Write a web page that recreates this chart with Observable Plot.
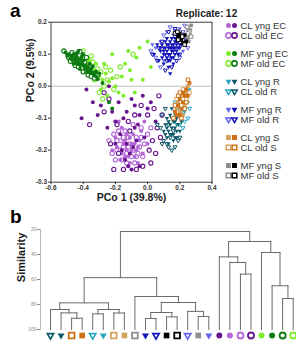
<!DOCTYPE html>
<html>
<head>
<meta charset="utf-8">
<script src="https://cdn.jsdelivr.net/npm/d3@7"></script>
<script src="https://cdn.jsdelivr.net/npm/@observablehq/plot@0.6"></script>
<style>
  body { margin: 0; background: #fff; font-family: "Liberation Sans", Arial, sans-serif; }
  #fig { position: relative; width: 296px; height: 344px; overflow: hidden; background: #fff; }
  #fig > * { position: absolute; }
  .panel { font-weight: bold; font-size: 19px; line-height: 1; color: #000; }
</style>
</head>
<body>
<div id="fig"></div>
<script>
// ---- Panel a: PCo scores, one array of [PCo1, PCo2] per group and replicate ----
const clYngEc1 = [[-0.19,-0.19],[-0.16,-0.21],[-0.13,-0.2],[-0.1,-0.18],[-0.08,-0.22],[-0.13,-0.15],[-0.05,-0.17],[-0.17,-0.23],[-0.11,-0.24],[-0.07,-0.2],[-0.03,-0.21],[-0.14,-0.17],[-0.2,-0.16],[-0.09,-0.15],[-0.04,-0.14],[-0.16,-0.13],[-0.06,-0.24],[-0.12,-0.22],[0.0,-0.18],[-0.22,-0.2],[-0.18,-0.11],[-0.02,-0.11],[-0.15,-0.18],[-0.11,-0.16],[-0.08,-0.18],[-0.14,-0.22],[-0.06,-0.19],[-0.1,-0.2]];
const clYngEc2 = [[-0.41,-0.1],[-0.38,-0.01],[-0.34,-0.05],[-0.31,-0.09],[-0.28,-0.04],[-0.25,-0.13],[-0.22,-0.08],[-0.2,-0.11],[-0.18,-0.05],[-0.15,-0.1],[-0.13,-0.08],[-0.1,-0.04],[-0.08,-0.06],[-0.05,-0.09],[-0.03,-0.03],[0.02,-0.05],[-0.14,-0.23],[-0.11,-0.21],[-0.09,-0.19],[-0.07,-0.17],[-0.12,-0.25],[-0.16,-0.2],[-0.05,-0.25],[-0.1,-0.26],[-0.2,-0.18],[-0.06,-0.12],[0.05,-0.11],[-0.24,0.0],[-0.29,-0.06],[-0.02,-0.16],[-0.17,-0.15],[-0.08,-0.13],[-0.13,-0.18],[0.0,-0.07]];
const clOldEc1 = [[-0.21,-0.15],[-0.19,-0.2],[-0.17,-0.17],[-0.15,-0.19],[-0.13,-0.21],[-0.11,-0.18],[-0.09,-0.2],[-0.07,-0.16],[-0.05,-0.19],[-0.03,-0.22],[-0.16,-0.23],[-0.12,-0.16],[-0.08,-0.24],[-0.18,-0.14],[-0.22,-0.21],[-0.14,-0.14],[-0.04,-0.13],[0.0,-0.15],[-0.1,-0.22],[-0.06,-0.21],[-0.02,-0.18],[-0.2,-0.23],[-0.24,-0.17],[-0.13,-0.24],[-0.09,-0.12],[0.02,-0.13],[-0.17,-0.2],[-0.12,-0.19],[-0.04,-0.16],[-0.15,-0.16],[-0.07,-0.22],[-0.19,-0.17]];
const clOldEc2 = [[-0.36,-0.12],[-0.27,-0.08],[-0.24,-0.04],[-0.19,-0.12],[-0.12,-0.11],[-0.08,-0.09],[-0.04,-0.06],[0.0,-0.09],[0.04,-0.07],[0.07,-0.03],[0.06,-0.13],[0.03,-0.17],[0.01,-0.2],[-0.03,-0.25],[-0.07,-0.26],[0.02,-0.24],[-0.15,-0.26],[-0.18,-0.21],[-0.23,-0.18],[0.09,-0.09],[0.05,-0.21],[-0.11,-0.14],[-0.27,-0.02],[0.08,-0.16],[-0.21,-0.26]];
const mfYngEc1 = [[-0.45,0.1],[-0.42,0.085],[-0.38,0.07],[-0.35,0.06],[-0.33,0.05],[-0.3,0.03],[-0.28,0.02],[-0.26,0.04],[-0.24,0.015],[-0.22,0.025],[-0.2,0.0],[-0.18,-0.02],[-0.25,-0.03],[-0.29,-0.01],[-0.16,0.03],[-0.14,0.07],[-0.1,0.02],[-0.07,0.09],[-0.05,0.12],[-0.12,0.11],[-0.03,0.02],[-0.27,0.07],[-0.22,0.1],[-0.11,0.05],[-0.08,-0.02],[0.02,0.06],[0.0,0.14],[-0.32,0.07],[-0.36,0.08],[-0.15,-0.03]];
const mfYngEc2 = [[-0.51,0.105],[-0.49,0.1],[-0.47,0.095],[-0.47,0.083],[-0.45,0.08],[-0.44,0.092],[-0.43,0.074],[-0.42,0.066],[-0.41,0.082],[-0.4,0.064],[-0.39,0.054],[-0.38,0.062],[-0.37,0.05],[-0.36,0.043],[-0.35,0.055],[-0.34,0.04],[-0.33,0.034],[-0.32,0.046],[-0.44,0.103],[-0.41,0.092],[-0.38,0.044],[-0.42,0.054],[-0.36,0.07],[-0.46,0.07],[-0.3,0.04],[-0.31,0.022],[-0.24,-0.05],[-0.22,-0.07],[-0.4,0.1],[-0.34,0.062],[-0.28,0.01],[-0.43,0.11],[-0.5,0.095],[-0.48,0.088],[-0.46,0.1],[-0.45,0.09],[-0.44,0.07],[-0.43,0.085],[-0.41,0.072],[-0.39,0.065],[-0.37,0.058],[-0.35,0.045],[-0.33,0.042],[-0.32,0.03],[-0.4,0.08],[-0.47,0.09]];
const mfOldEc1 = [[-0.4,0.11],[-0.37,0.085],[-0.34,0.075],[-0.31,0.055],[-0.29,0.045],[-0.27,0.0],[-0.25,0.02],[-0.23,0.05],[-0.21,-0.01],[-0.3,-0.02],[-0.19,0.03],[-0.09,0.1],[-0.33,0.02],[-0.35,0.095],[-0.28,-0.04],[-0.17,0.06],[-0.26,0.06]];
const mfOldEc2 = [[-0.52,0.11],[-0.49,0.09],[-0.47,0.105],[-0.45,0.065],[-0.43,0.06],[-0.4,0.045],[-0.37,0.035],[-0.35,0.03],[-0.33,0.025],[-0.39,0.075],[-0.42,0.108],[-0.36,0.06],[-0.31,0.035],[-0.48,0.078],[-0.44,0.085],[-0.38,0.09]];
const clYngR1 = [[0.2,-0.03],[0.22,-0.05],[0.24,-0.02],[0.19,-0.07],[0.23,-0.08],[0.21,-0.1],[0.25,-0.05],[0.17,-0.09],[0.26,-0.01],[0.18,-0.12]];
const clYngR2 = [[0.12,-0.1],[0.14,-0.12],[0.16,-0.11],[0.13,-0.14],[0.15,-0.15],[0.17,-0.13],[0.18,-0.1],[0.19,-0.12],[0.2,-0.14],[0.16,-0.17],[0.11,-0.12],[0.14,-0.09],[0.21,-0.11],[0.18,-0.16],[0.12,-0.16],[0.1,-0.14],[0.22,-0.09],[0.15,-0.07],[0.2,-0.06],[0.13,-0.18],[0.17,-0.08],[0.13,-0.11],[0.15,-0.13],[0.17,-0.11],[0.14,-0.15],[0.16,-0.15],[0.18,-0.14],[0.19,-0.09],[0.12,-0.13],[0.15,-0.1],[0.17,-0.16],[0.11,-0.15]];
const clOldR1 = [[0.18,-0.06],[0.21,-0.08],[0.23,-0.11],[0.24,-0.04],[0.19,-0.03],[0.22,-0.13],[0.17,-0.05],[0.26,-0.07],[0.25,-0.1],[0.2,-0.12]];
const clOldR2 = [[0.09,-0.09],[0.1,-0.17],[0.13,-0.19],[0.11,-0.07],[0.15,-0.2],[0.08,-0.13],[0.17,-0.19],[0.19,-0.17],[0.12,-0.18],[0.14,-0.16],[0.2,-0.16],[0.06,-0.12],[0.09,-0.18],[0.16,-0.14],[0.13,-0.12]];
const mfYngR1 = [[0.12,0.17],[0.16,0.16],[0.2,0.18],[0.23,0.15],[0.08,0.14],[0.05,0.12],[0.18,0.12],[0.22,0.11],[0.1,0.08],[0.14,0.09],[0.03,0.13]];
const mfYngR2 = [[0.06,0.13],[0.08,0.11],[0.1,0.12],[0.12,0.13],[0.14,0.12],[0.16,0.13],[0.18,0.14],[0.11,0.1],[0.13,0.1],[0.15,0.11],[0.17,0.1],[0.19,0.12],[0.2,0.15],[0.09,0.09],[0.12,0.15],[0.15,0.15],[0.14,0.08],[0.13,0.06],[0.1,0.07],[0.16,0.09],[0.04,0.1],[0.18,0.16],[0.21,0.13],[0.07,0.08],[0.11,0.14],[0.16,0.07],[0.14,0.04],[0.12,0.11],[0.14,0.14],[0.17,0.12],[0.19,0.1],[0.15,0.13],[0.13,0.12],[0.1,0.1],[0.16,0.11],[0.18,0.13],[0.2,0.12],[0.11,0.12],[0.13,0.13],[0.15,0.12],[0.17,0.14],[0.19,0.14],[0.12,0.09],[0.14,0.1],[0.16,0.12],[0.18,0.11],[0.1,0.11],[0.13,0.08],[0.15,0.09],[0.17,0.15],[0.2,0.13],[0.08,0.12],[0.09,0.13],[0.21,0.15],[0.19,0.16]];
const mfOldR1 = [[0.14,0.185],[0.17,0.175],[0.22,0.17],[0.24,0.14],[0.25,0.12],[0.02,0.11],[0.05,0.09],[0.08,0.06],[0.2,0.09],[0.23,0.19],[0.1,0.16]];
const mfOldR2 = [[0.03,0.1],[0.06,0.08],[0.09,0.14],[0.12,0.08],[0.11,0.05],[0.15,0.06],[0.18,0.08],[0.2,0.1],[0.13,0.17],[0.07,0.12],[0.17,0.18]];
const clYngS1 = [[0.19,-0.05],[0.21,-0.03],[0.23,-0.06],[0.2,-0.08],[0.24,-0.02],[0.22,-0.09],[0.25,0.0],[0.18,-0.07]];
const clYngS2 = [[0.2,-0.04],[0.22,-0.05],[0.21,-0.07],[0.23,-0.03],[0.24,-0.01],[0.19,-0.06],[0.18,-0.09],[0.25,-0.03],[0.22,-0.02],[0.2,-0.09],[0.17,-0.08],[0.26,0.01]];
const clOldS1 = [[0.18,-0.04],[0.21,-0.06],[0.24,-0.04],[0.22,-0.01],[0.19,-0.09],[0.26,-0.02]];
const clOldS2 = [[0.17,-0.06],[0.2,-0.02],[0.23,-0.07],[0.25,0.02],[0.21,-0.1],[0.19,-0.03],[0.24,-0.05],[0.16,-0.1]];
const mfYngS1 = [[0.25,0.18],[0.26,0.16],[0.245,0.15],[0.27,0.19],[0.255,0.14],[0.265,0.175]];
const mfYngS2 = [[0.19,0.155],[0.21,0.145],[0.23,0.16],[0.22,0.135],[0.2,0.165],[0.24,0.14]];
const mfOldS1 = [[0.26,0.17],[0.245,0.185],[0.27,0.155],[0.25,0.165]];
const mfOldS2 = [[0.17,0.165],[0.19,0.145],[0.215,0.155],[0.185,0.17],[0.23,0.13]];

// groups in drawing order: [label, replicate, scores]
const scatterGroups = [
  ["CL old EC", 1, clOldEc1], ["CL yng EC", 1, clYngEc1], ["CL old EC", 2, clOldEc2], ["CL yng EC", 2, clYngEc2],
  ["MF old EC", 1, mfOldEc1], ["MF yng EC", 1, mfYngEc1], ["MF old EC", 2, mfOldEc2], ["MF yng EC", 2, mfYngEc2],
  ["CL old R", 1, clOldR1], ["CL yng R", 1, clYngR1], ["CL old R", 2, clOldR2], ["CL yng R", 2, clYngR2],
  ["CL old S", 1, clOldS1], ["CL yng S", 1, clYngS1], ["CL old S", 2, clOldS2], ["CL yng S", 2, clYngS2],
  ["MF old R", 1, mfOldR1], ["MF yng R", 1, mfYngR1], ["MF old R", 2, mfOldR2], ["MF yng R", 2, mfYngR2],
  ["MF yng S", 1, mfYngS1], ["MF old S", 1, mfOldS1], ["MF yng S", 2, mfYngS2], ["MF old S", 2, mfOldS2]
];

const xTicks = [-0.6, -0.4, -0.2, 0.0, 0.2, 0.4];
const yTicks = [-0.3, -0.2, -0.1, 0.0, 0.1, 0.2];
const xTitle = "PCo 1 (39.8%)";
const yTitle = "PCo 2 (9.5%)";

// legend rows, top to bottom
const legendLabels = ["CL yng EC", "CL old EC", "MF yng EC", "MF old EC", "CL yng R", "CL old R",
                      "MF yng R", "MF old R", "CL yng S", "CL old S", "MF yng S", "MF old S"];
const replicates = ["1", "2"];
const legendTitle = "Replicate:";

// ---- Panel b: cluster dendrogram ----
const leafLabels = ["CL old R", "CL yng R", "CL old S", "CL yng S", "CL old R", "CL yng R", "CL old S", "CL yng S",
                    "MF old S", "MF yng R", "MF old R", "MF yng S", "MF old S", "MF old R", "MF yng S", "MF yng R",
                    "CL yng EC", "CL yng EC", "CL old EC", "CL old EC", "MF yng EC", "MF yng EC", "MF old EC", "MF old EC"];
const leafReps = [2, 2, 2, 2, 1, 1, 1, 1, 1, 2, 2, 2, 2, 1, 1, 1, 2, 1, 1, 2, 1, 2, 2, 1];
// linkage: [node a, node b, similarity]; new nodes are numbered from 24 upward
const merges = [
  [2, 3, 91.0], [1, 24, 86.7], [0, 25, 84.0], [4, 5, 87.5], [6, 7, 86.8], [27, 28, 84.0], [26, 29, 78.7],
  [9, 10, 91.2], [11, 12, 89.9], [31, 32, 86.4], [14, 15, 89.6], [13, 34, 85.5], [33, 35, 78.4], [8, 36, 73.6],
  [30, 37, 58.5], [18, 19, 55.7], [17, 39, 46.4], [16, 40, 41.9], [22, 23, 75.2], [21, 42, 65.0], [20, 43, 38.4],
  [41, 44, 29.6], [38, 45, 21.6]
];
const simTicks = [20, 40, 60, 80, 100];
const simTitle = "Similarity";

// ---- styling ----
const palette = {
  "CL EC": ["#b468d8", "#6a1590"],
  "MF EC": ["#80ec2e", "#0b7b12"],
  "CL R":  ["#2ba8c1", "#0d5969"],
  "MF R":  ["#6464ee", "#1414b6"],
  "CL S":  ["#d6a35f", "#cf6f14"],
  "MF S":  ["#8e8e8e", "#000000"]
};
const downTriangle = {
  draw(context, size) {
    const s3 = Math.sqrt(3);
    const y = -Math.sqrt(size / (s3 * 3));
    context.moveTo(0, -2 * y);
    context.lineTo(-s3 * y, y);
    context.lineTo(s3 * y, y);
    context.closePath();
  }
};
const symbolFor = {EC: d3.symbolCircle, R: downTriangle, S: d3.symbolSquare};
// [filled radius, open radius, open stroke width]
const scatterSize = {EC: [2, 2.1, 1.1], R: [1.6, 1.5, 1], S: [2.1, 2, 1]};
const legendSize  = {EC: [2.5, 2.6, 1.6], R: [2.2, 2.0, 1.5], S: [2.8, 2.6, 1.5]};
const leafSize    = {EC: [3, 3, 1.8], R: [2.6, 2.3, 1.7], S: [3.2, 3.2, 1.8]};

function styleOf(label, rep, sizes) {
  const [site, age, tissue] = label.split(" ");
  const color = palette[site + " " + tissue][+rep - 1];
  const [rFill, rOpen, sw] = sizes[tissue];
  return age === "yng"
    ? {symbol: symbolFor[tissue], fill: color, stroke: "none", r: rFill}
    : {symbol: symbolFor[tissue], fill: "white", stroke: color, strokeWidth: sw, r: rOpen};
}

const font = "'Liberation Sans', Arial, sans-serif";
const fig = document.getElementById("fig");

// ---- panel a scatter ----
const scatter = Plot.plot({
  width: 296, height: 206,
  marginLeft: 50.5, marginRight: 84.5, marginTop: 21.7, marginBottom: 24.3,
  x: {domain: [-0.6, 0.4]},
  y: {domain: [-0.3, 0.2]},
  style: {background: "transparent", overflow: "visible", fontFamily: font},
  marks: [
    Plot.ruleY([0], {stroke: "#bdbdbd", strokeWidth: 1}),
    ...scatterGroups.map(([label, rep, pts]) =>
      Plot.dot(pts, {x: d => d[0], y: d => d[1], ...styleOf(label, rep, scatterSize)})),
    Plot.frame({stroke: "#3a3a3a", strokeWidth: 1}),
    Plot.axisX(xTicks, {tickFormat: d => d.toFixed(1), tickSize: 2.5, tickPadding: 1, fontSize: 6.5,
      fontWeight: "bold", color: "#333", label: null}),
    Plot.axisY(yTicks, {tickFormat: d => d.toFixed(1), tickSize: 2.5, tickPadding: 1.5, fontSize: 6.5,
      fontWeight: "bold", color: "#333", label: null}),
    Plot.text([xTitle], {text: d => d, frameAnchor: "bottom", dy: 19.2, fontSize: 10.5, fontWeight: "bold", fill: "#1a1a1a"}),
    Plot.text([yTitle], {text: d => d, frameAnchor: "left", dx: -20.5, rotate: -90, fontSize: 10.5, fontWeight: "bold", fill: "#1a1a1a"})
  ]
});
scatter.style.left = "0px";
scatter.style.top = "0px";
fig.appendChild(scatter);

// ---- legend ----
const rowPos = i => Math.floor(i / 2) * 2.8 + (i % 2);
const legendMarks = [];
legendLabels.forEach((label, i) => {
  replicates.forEach(rep => {
    legendMarks.push(Plot.dot([{rep, row: rowPos(i)}], {x: "rep", y: "row", ...styleOf(label, rep, legendSize)}));
  });
});
const legend = Plot.plot({
  width: 126, height: 190, margin: 0,
  x: {type: "point", domain: replicates, range: [54.5, 67.5], axis: null},
  y: {domain: [0, 1], range: [25, 35], axis: null},
  style: {background: "transparent", overflow: "visible", fontFamily: font},
  marks: [
    ...legendMarks,
    Plot.text(legendLabels, {text: d => d, x: () => "2", y: (d, i) => rowPos(i), dx: 6, textAnchor: "start",
      fontSize: 9.5, fill: "#333"}),
    Plot.text(replicates, {text: d => d, x: d => d, y: () => -1.2, fontSize: 10, fontWeight: "bold", fill: "#222"}),
    Plot.text([legendTitle], {text: d => d, x: () => "1", y: () => -1.2, dx: -5, textAnchor: "end",
      fontSize: 10, fontWeight: "bold", fill: "#222"})
  ]
});
legend.style.left = "170px";
legend.style.top = "0px";
fig.appendChild(legend);

// ---- panel b dendrogram ----
const nodeX = leafLabels.map((_, i) => i);
const nodeH = leafLabels.map(() => 100);
const segs = [];
merges.forEach(([a, b, s]) => {
  segs.push({x1: nodeX[a], y1: nodeH[a], x2: nodeX[a], y2: s});
  segs.push({x1: nodeX[b], y1: nodeH[b], x2: nodeX[b], y2: s});
  segs.push({x1: nodeX[a], y1: s, x2: nodeX[b], y2: s});
  nodeX.push((nodeX[a] + nodeX[b]) / 2);
  nodeH.push(s);
});
const leafMarks = leafLabels.map((label, i) =>
  Plot.dot([{leaf: i, sim: 100}], {x: "leaf", y: "sim", dy: 6, ...styleOf(label, leafReps[i], leafSize)}));

const dendro = Plot.plot({
  width: 296, height: 138,
  marginLeft: 50, marginRight: 3.3, marginTop: 23, marginBottom: 15,
  x: {domain: [0, leafLabels.length - 1], axis: null},
  y: {domain: [20, 100], reverse: true},
  style: {background: "transparent", overflow: "visible", fontFamily: font},
  marks: [
    Plot.frame({anchor: "left", dx: -10, stroke: "#b8b8b8"}),
    Plot.axisY(simTicks, {dx: -10, tickSize: 3, tickPadding: 1, fontSize: 5, color: "#8a8a8a", label: null}),
    Plot.text([simTitle], {text: d => d, frameAnchor: "left", dx: -29.2, dy: 2.7, rotate: -90, fontSize: 11,
      fontWeight: "bold", fill: "#1a1a1a"}),
    Plot.link(segs, {x1: "x1", y1: "y1", x2: "x2", y2: "y2", stroke: "#6b6b6b", strokeWidth: 1, strokeLinecap: "square"}),
    ...leafMarks
  ]
});
dendro.style.left = "0px";
dendro.style.top = "206px";
fig.appendChild(dendro);

// panel letters
for (const [t, top] of [["a", 1], ["b", 207]]) {
  const d = document.createElement("div");
  d.className = "panel";
  d.textContent = t;
  d.style.left = "10px";
  d.style.top = top + "px";
  fig.appendChild(d);
}
</script>
</body>
</html>
